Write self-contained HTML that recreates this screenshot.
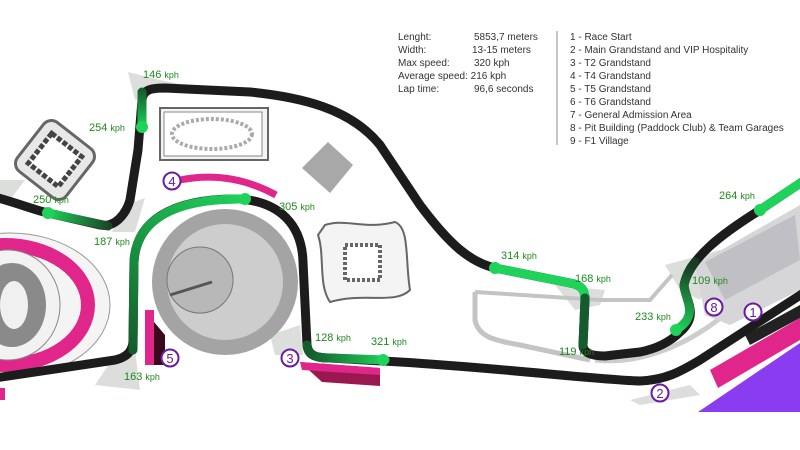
<!DOCTYPE html>
<html><head><meta charset="utf-8"><style>
body{margin:0;width:800px;height:450px;overflow:hidden;background:#fff;font-family:"Liberation Sans",sans-serif}
svg{display:block}
.k{fill:#1f8a1f;font-size:11px;font-family:"Liberation Sans",sans-serif}
.k tspan{font-size:9px}
.n{fill:#6a1ba0;font-size:13px;font-family:"Liberation Sans",sans-serif;text-anchor:middle}
.inf{fill:#333;font-size:10px;font-family:"Liberation Sans",sans-serif}
</style></head><body>
<svg width="800" height="450" viewBox="0 0 800 450">
<defs>
<linearGradient id="g1" gradientUnits="userSpaceOnUse" x1="133" y1="350" x2="245" y2="198"><stop offset="0" stop-color="#145c2c"/><stop offset="1" stop-color="#1ed25a"/></linearGradient>
<linearGradient id="g2" gradientUnits="userSpaceOnUse" x1="48" y1="213" x2="115" y2="225"><stop offset="0" stop-color="#1ed25a"/><stop offset="1" stop-color="#1a3a22"/></linearGradient>
<linearGradient id="g3" gradientUnits="userSpaceOnUse" x1="142" y1="90" x2="142" y2="128"><stop offset="0" stop-color="#145c2c"/><stop offset="1" stop-color="#1ed25a"/></linearGradient>
<linearGradient id="g4" gradientUnits="userSpaceOnUse" x1="310" y1="355" x2="385" y2="360"><stop offset="0" stop-color="#145c2c"/><stop offset="1" stop-color="#1ed25a"/></linearGradient>
<linearGradient id="g5" gradientUnits="userSpaceOnUse" x1="676" y1="330" x2="690" y2="265"><stop offset="0" stop-color="#1ed25a"/><stop offset="1" stop-color="#1a3a22"/></linearGradient>
</defs>
<g fill="#dcdedc">
<polygon points="0,180 25,180 10,200 0,200"/>
<polygon points="128,72 160,80 200,88 150,92 145,100 135,100"/>
<polygon points="125,205 145,198 135,232 112,232"/>
<polygon points="270,335 300,325 303,355 275,355"/>
<polygon points="115,355 135,350 140,390 95,385"/>
<polygon points="555,285 605,290 600,305 575,310"/>
<polygon points="665,265 720,250 700,300 680,290"/>
<polygon points="630,400 690,385 700,395 640,405"/>
</g>
<path d="M475,292 L475,320 C478,335 490,340 520,345 L590,360" stroke="#c4c4c4" stroke-width="5" fill="none"/>
<path d="M475,292 L600,300 L650,300 L672,275" stroke="#c4c4c4" stroke-width="4" fill="none"/>
<path d="M595,360 C640,365 690,345 730,310" stroke="#cdcdcd" stroke-width="5" fill="none"/>
<polygon points="695,265 800,205 800,290 730,325 705,315" fill="#d6d6d8"/>
<polygon points="705,262 795,215 800,260 725,300" fill="#c0c0c4"/>
<polygon points="745,335 800,305 800,318 750,345" fill="#222"/>
<polygon points="710,370 800,318 800,340 718,388" fill="#e0268a"/>
<polygon points="698,412 800,343 800,412" fill="#8a3cf0"/>
<!-- left stadium -->
<ellipse cx="10" cy="305" rx="100" ry="72" fill="#f4f4f4" stroke="#999" stroke-width="1"/>
<ellipse cx="5" cy="305" rx="83" ry="60" fill="none" stroke="#e0268a" stroke-width="14"/>
<ellipse cx="8" cy="305" rx="52" ry="55" fill="#f2f2f2" stroke="#888" stroke-width="1"/>
<ellipse cx="12" cy="305" rx="34" ry="42" fill="#8a8a8a"/>
<ellipse cx="14" cy="305" rx="14" ry="24" fill="#f0f0f0"/>
<rect x="0" y="388" width="5" height="12" fill="#e0268a"/>
<g transform="rotate(38 55 160)"><rect x="24" y="129" width="62" height="62" rx="10" fill="#e8e8e8" stroke="#666" stroke-width="3"/><rect x="36" y="141" width="38" height="38" fill="#fff" stroke="#444" stroke-width="5" stroke-dasharray="5 2"/></g>
<rect x="160" y="108" width="108" height="52" fill="#f4f4f4" stroke="#666" stroke-width="2"/>
<rect x="164" y="112" width="98" height="44" fill="#fff" stroke="#888" stroke-width="1"/>
<ellipse cx="212" cy="134" rx="40" ry="15" fill="none" stroke="#aaa" stroke-width="4" stroke-dasharray="3 2"/>
<polygon points="328,142 353,165 330,193 302,168" fill="#a8a8a8"/>
<path d="M325,225 C345,218 365,230 395,222 C410,228 405,260 410,290 C395,305 365,292 330,302 C318,285 325,255 318,235 Z" fill="#f4f4f4" stroke="#666" stroke-width="2"/>
<rect x="345" y="245" width="35" height="35" fill="#fff" stroke="#666" stroke-width="4" stroke-dasharray="3 2"/>
<circle cx="225" cy="282" r="73" fill="#a4a4a4"/>
<circle cx="225" cy="282" r="58" fill="#cdcdcd"/>
<circle cx="200" cy="280" r="33" fill="#b8b8b8" stroke="#777"/>
<line x1="170" y1="295" x2="212" y2="282" stroke="#555" stroke-width="3"/>
<path d="M180,180 Q230,170 276,195" stroke="#e0268a" stroke-width="7" fill="none"/>
<rect x="145" y="310" width="9" height="55" fill="#e0268a"/><polygon points="154,322 165,335 165,365 154,365" fill="#3a0a1c"/>
<polygon points="300,362 380,368 380,386 322,382" fill="#9a1850"/>
<polygon points="300,362 380,368 380,375 302,370" fill="#e0268a"/>
<g fill="none" stroke="#1c1c1c" stroke-width="9" stroke-linecap="round" stroke-linejoin="round">
<path d="M-5,197 C20,204 35,210 48,213 L100,225 C115,228 126,214 130,200 L138,150 L142,100 C143,90 150,88 165,88 L250,92 C300,97 350,108 380,145 L420,205 C450,245 470,262 495,268 L570,283 C582,285 585,290 585,300 L583,345 C583,352 590,356 605,356 L640,352 C660,348 672,340 680,332 C700,315 685,300 684,285 C690,258 720,235 760,210 L805,180"/>
<path d="M-5,378 L115,360 C128,357 133,350 133,340 L134,262 C136,222 170,198 240,199 C280,202 302,225 303,262 L307,345 C308,355 315,358 330,358 L400,362 C500,368 600,380 640,381 C665,380 680,372 700,360 L805,292"/>
</g>
<g fill="none" stroke-width="9" stroke-linecap="round">
<path d="M133,350 L134,262 C136,222 170,198 245,199" stroke="url(#g1)"/>
<path d="M48,213 L108,226" stroke="url(#g2)"/>
<path d="M142,92 L142,127" stroke="url(#g3)"/>
<path d="M307,345 C308,355 315,358 330,358 L385,360" stroke="url(#g4)"/>
<path d="M495,268 L570,283 C582,285 585,290 585,300" stroke="#1ed25a"/>
<path d="M585,298 L583,345" stroke="#145c2c"/>
<path d="M676,330 C700,315 685,300 684,285 C686,275 690,268 695,262" stroke="url(#g5)"/>
<path d="M760,210 L805,180" stroke="#1ed25a"/>
</g>
<g fill="#1ed25a">
<circle cx="142" cy="127" r="6"/><circle cx="48" cy="213" r="6"/><circle cx="245" cy="199" r="6"/>
<circle cx="383" cy="360" r="6"/><circle cx="495" cy="268" r="6"/><circle cx="676" cy="330" r="6"/><circle cx="760" cy="210" r="6"/>
</g>
<text class="k" x="143" y="78">146 <tspan>kph</tspan></text>
<text class="k" x="89" y="131">254 <tspan>kph</tspan></text>
<text class="k" x="33" y="203">250 <tspan>kph</tspan></text>
<text class="k" x="94" y="245">187 <tspan>kph</tspan></text>
<text class="k" x="279" y="210">305 <tspan>kph</tspan></text>
<text class="k" x="124" y="380">163 <tspan>kph</tspan></text>
<text class="k" x="315" y="341">128 <tspan>kph</tspan></text>
<text class="k" x="371" y="345">321 <tspan>kph</tspan></text>
<text class="k" x="501" y="259">314 <tspan>kph</tspan></text>
<text class="k" x="575" y="282">168 <tspan>kph</tspan></text>
<text class="k" x="559" y="355">119 <tspan>kph</tspan></text>
<text class="k" x="635" y="320">233 <tspan>kph</tspan></text>
<text class="k" x="692" y="284">109 <tspan>kph</tspan></text>
<text class="k" x="719" y="199">264 <tspan>kph</tspan></text>
<g fill="#fff" stroke="#6a1ba0" stroke-width="2">
<circle cx="172" cy="181" r="8.5"/><circle cx="170" cy="358" r="8.5"/><circle cx="290" cy="358" r="8.5"/>
<circle cx="714" cy="307" r="8.5"/><circle cx="753" cy="312" r="8.5"/><circle cx="660" cy="393" r="8.5"/>
</g>
<text class="n" x="172" y="186">4</text><text class="n" x="170" y="363">5</text><text class="n" x="290" y="363">3</text>
<text class="n" x="714" y="312">8</text><text class="n" x="753" y="317">1</text><text class="n" x="660" y="398">2</text>
<g class="inf">
<text x="398" y="40">Lenght:</text><text x="474" y="40">5853,7 meters</text>
<text x="398" y="53">Width:</text><text x="472" y="53">13-15 meters</text>
<text x="398" y="66">Max speed:</text><text x="474" y="66">320 kph</text>
<text x="398" y="79">Average speed: 216 kph</text>
<text x="398" y="92">Lap time:</text><text x="474" y="92">96,6 seconds</text>
<text x="570" y="40">1 - Race Start</text>
<text x="570" y="53">2 - Main Grandstand and VIP Hospitality</text>
<text x="570" y="66">3 - T2 Grandstand</text>
<text x="570" y="79">4 - T4 Grandstand</text>
<text x="570" y="92">5 - T5 Grandstand</text>
<text x="570" y="105">6 - T6 Grandstand</text>
<text x="570" y="118">7 - General Admission Area</text>
<text x="570" y="131">8 - Pit Building (Paddock Club) &amp; Team Garages</text>
<text x="570" y="144">9 - F1 Village</text>
</g>
<line x1="557" y1="31" x2="557" y2="145" stroke="#888" stroke-width="1"/>
</svg>
</body></html>
